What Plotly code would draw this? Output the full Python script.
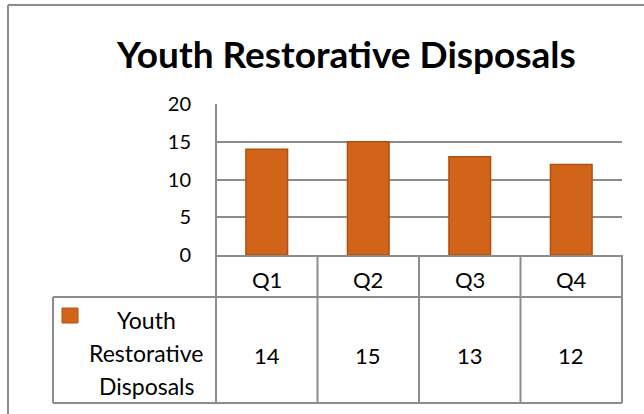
import plotly.graph_objects as go

categories = ["Q1", "Q2", "Q3", "Q4"]
values = [14, 15, 13, 12]
series_name = "Youth Restorative Disposals"
series_lines = ["Youth", "Restorative", "Disposals"]
title_text = "Youth Restorative Disposals"
y_ticks = [0, 5, 10, 15, 20]

W, H = 644, 414
L, R, T, B = 216, 22, 104, 159
PW, PH = W - L - R, H - T - B

def px(x):
    return (x - L) / PW

def py(y):
    return (H - B - y) / PH

FONT = "Lato, Carlito, Calibri, sans-serif"
GRID = "#8c8c8c"
BAR = "#D2641A"

fig = go.Figure()
fig.add_trace(go.Bar(
    x=categories, y=values, name=series_name,
    marker=dict(color=BAR, line=dict(color="#B0500F", width=1.5)),
    width=0.41, showlegend=False, hoverinfo="x+y",
))

shapes = []
line = dict(color=GRID, width=2)
# outer chart border (top + left)
shapes.append(dict(type="line", xref="paper", yref="paper", x0=px(8), x1=px(W + 2), y0=py(5), y1=py(5), line=line))
shapes.append(dict(type="line", xref="paper", yref="paper", x0=px(8), x1=px(8), y0=py(5), y1=py(H + 2), line=line))
# y-axis line extended through table
shapes.append(dict(type="line", xref="paper", yref="paper", x0=0, x1=0, y0=1, y1=py(403), line=line))
# table outer lines
shapes.append(dict(type="line", xref="paper", yref="paper", x0=1, x1=1, y0=0, y1=py(403), line=line))
shapes.append(dict(type="line", xref="paper", yref="paper", x0=px(53), x1=1, y0=py(297), y1=py(297), line=line))
shapes.append(dict(type="line", xref="paper", yref="paper", x0=px(53), x1=1, y0=py(403), y1=py(403), line=line))
shapes.append(dict(type="line", xref="paper", yref="paper", x0=px(53), x1=px(53), y0=py(297), y1=py(403), line=line))
# category dividers
for i in range(len(categories) - 1):
    shapes.append(dict(type="line", xref="x", yref="paper", x0=i + 0.5, x1=i + 0.5, y0=0, y1=py(403), line=line))
# legend key
shapes.append(dict(type="rect", xref="paper", yref="paper", x0=px(62), x1=px(78), y0=py(308), y1=py(323),
                   fillcolor=BAR, line=dict(color="#B0500F", width=1)))

annotations = []
for i, (c, v) in enumerate(zip(categories, values)):
    annotations.append(dict(x=c, xref="x", y=py(279), yref="paper", text=c, showarrow=False,
                            font=dict(family=FONT, size=22, color="#000"), xanchor="center", yanchor="middle"))
    annotations.append(dict(x=c, xref="x", y=py(355), yref="paper", text=str(v), showarrow=False,
                            font=dict(family=FONT, size=22, color="#000"), xanchor="center", yanchor="middle"))
for j, t in enumerate(series_lines):
    annotations.append(dict(x=px(146), xref="paper", y=py(320 + 33 * j), yref="paper", text=t, showarrow=False,
                            font=dict(family=FONT, size=23, color="#000"), xanchor="center", yanchor="middle"))
annotations.append(dict(x=px(346), xref="paper", y=py(53), yref="paper", text="<b>" + title_text + "</b>",
                        showarrow=False, font=dict(family=FONT, size=37, color="#000"),
                        xanchor="center", yanchor="middle"))

fig.update_layout(
    width=W, height=H,
    margin=dict(l=L, r=R, t=T, b=B, pad=0),
    paper_bgcolor="white", plot_bgcolor="white",
    shapes=shapes, annotations=annotations,
    bargap=0.59,
    xaxis=dict(showticklabels=False, showgrid=False, zeroline=False, showline=True,
               linecolor=GRID, linewidth=2, range=[-0.5, 3.5], fixedrange=True),
    yaxis=dict(range=[0, 20], tickvals=y_ticks, showgrid=True, gridcolor=GRID, gridwidth=2,
               zeroline=False, showline=False, ticks="", ticklabelstandoff=24,
               tickfont=dict(family=FONT, size=20, color="#000"), fixedrange=True),
)

fig.write_html("out.html", config={"displayModeBar": False},
               post_script="document.body.style.margin='0';")
